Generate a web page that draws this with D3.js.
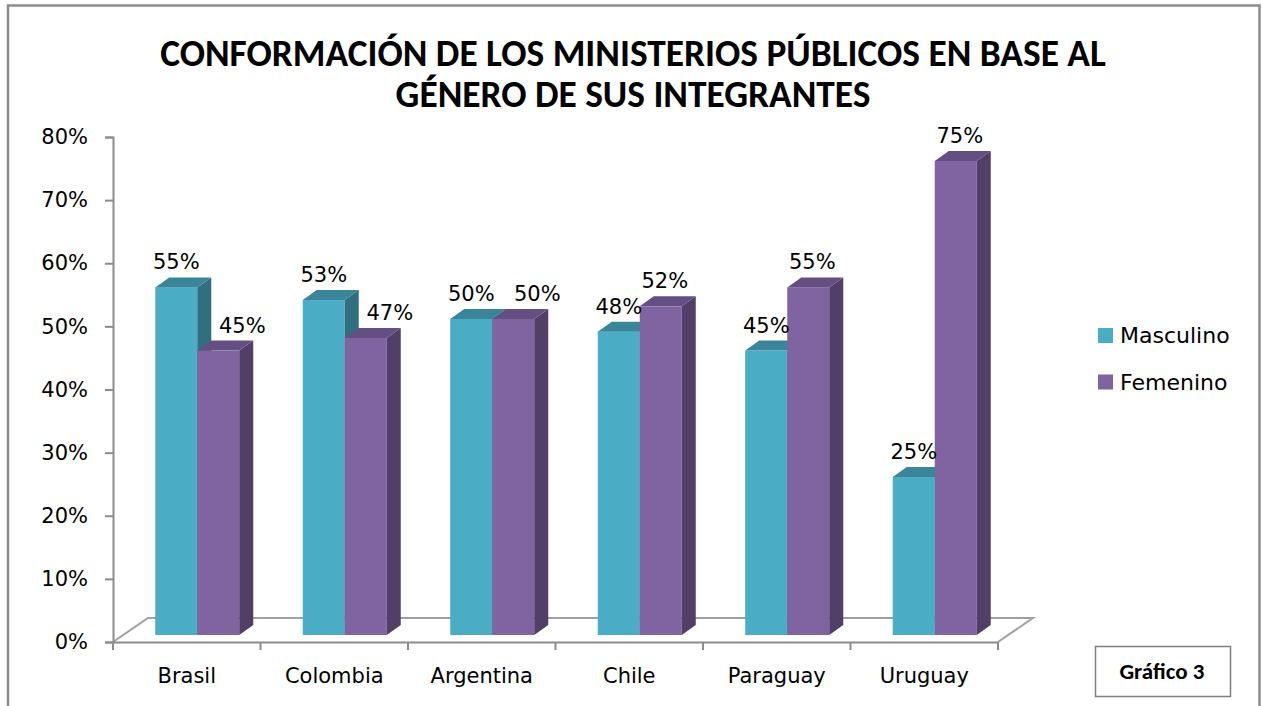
<!DOCTYPE html>
<html>
<head>
<meta charset="utf-8">
<script src="https://cdn.jsdelivr.net/npm/d3@7"></script>
<style>
  body { margin: 0; background: #fff; }
  text { font-family: "DejaVu Sans", sans-serif; }
  .calibri { font-family: Carlito, "Open Sans", sans-serif; }
</style>
</head>
<body>
<svg id="chart" width="1262" height="706"></svg>
<script>
var countries = ["Brasil", "Colombia", "Argentina", "Chile", "Paraguay", "Uruguay"];
var masculino = [0.55, 0.53, 0.50, 0.48, 0.45, 0.25];
var femenino = [0.45, 0.47, 0.50, 0.52, 0.55, 0.75];
var series = ["Masculino", "Femenino"];
var yTicks = [0, 0.1, 0.2, 0.3, 0.4, 0.5, 0.6, 0.7, 0.8];
var titleLines = ["CONFORMACIÓN DE LOS MINISTERIOS PÚBLICOS EN BASE AL", "GÉNERO DE SUS INTEGRANTES"];

var colors = {
    Masculino: { front: "#4bacc6", side: "#2f6f80", top: "#3a8599" },
    Femenino: { front: "#8064a2", side: "#513f68", top: "#654f82" }
};

var svg = d3.select("#chart");
var depthX = 14, depthY = 10, barW = 42;
var floorX = 35, floorY = 24;

// frame
svg.append("path")
    .attr("d", "M8,712 L8,5.5 L1259.5,5.5 L1259.5,712")
    .attr("fill", "none")
    .attr("stroke", "#8c8c8c")
    .attr("stroke-width", 2.5);

// title
titleLines.forEach(function(t, i){
    svg.append("text")
        .attr("x", 633)
        .attr("y", 66 + i * 41)
        .attr("text-anchor", "middle")
        .attr("font-size", 31)
        .attr("font-weight", "bold")
        .classed("title calibri", true)
        .text(t);
});
var t0 = svg.select(".title").node();
var fs = 31 * 946 / t0.getComputedTextLength();
svg.selectAll(".title").attr("font-size", fs);

var x = d3.scaleBand().domain(countries).range([113, 998]);
var y = d3.scaleLinear().domain([0, 0.8]).range([642, 137]);
var yBar = d3.scaleLinear().domain([0, 0.8]).range([635, 635 - 0.8 * 632]);

// floor
svg.append("path")
    .attr("d", "M113,642 L" + (113 + floorX) + "," + (642 - floorY) +
        " L" + (998 + floorX) + "," + (642 - floorY) + " L998,642")
    .attr("fill", "none")
    .attr("stroke", "#a0a0a0")
    .attr("stroke-width", 2);

// y axis
var yAxis = svg.append("g")
    .attr("transform", "translate(113,0)")
    .call(d3.axisLeft(y).tickValues(yTicks).tickFormat(d3.format(".0%")).tickSize(8).tickPadding(17));
yAxis.select(".domain").attr("stroke", "#8c8c8c").attr("stroke-width", 2);
yAxis.selectAll(".tick line").attr("stroke", "#8c8c8c").attr("stroke-width", 2);
yAxis.selectAll(".tick text")
    .attr("font-size", 21)
    .attr("fill", "#000")
    .style("font-family", '"DejaVu Sans", sans-serif');

// x axis
var xAxis = svg.append("g")
    .attr("transform", "translate(0,642)")
    .call(d3.axisBottom(x).tickSize(0).tickPadding(26));
xAxis.select(".domain").attr("stroke", "#8c8c8c").attr("stroke-width", 2);
xAxis.selectAll(".tick text")
    .attr("font-size", 21)
    .attr("fill", "#000")
    .style("font-family", '"DejaVu Sans", sans-serif');
var bounds = countries.map(function(c){ return x(c); }).concat([998]);
svg.selectAll(".xtick")
    .data(bounds)
    .enter().append("line")
    .attr("x1", d => d).attr("x2", d => d)
    .attr("y1", 642).attr("y2", 650)
    .attr("stroke", "#8c8c8c")
    .attr("stroke-width", 2);

// bars
var bars = [];
countries.forEach(function(c, i){
    var mid = x(c) + x.bandwidth() / 2 + 10.5;
    bars.push({ country: c, s: "Masculino", v: masculino[i], x0: mid - barW, labelDx: 0 });
    var shift = femenino[i] - masculino[i] <= 0.04 ? 24 : 4;
    bars.push({ country: c, s: "Femenino", v: femenino[i], x0: mid, labelDx: shift });
});

var g = svg.selectAll(".bar")
    .data(bars)
    .enter().append("g")
    .classed("bar", true);

g.append("rect")
    .attr("x", d => d.x0)
    .attr("y", d => yBar(d.v))
    .attr("width", barW)
    .attr("height", d => yBar(0) - yBar(d.v))
    .attr("fill", d => colors[d.s].front);

g.append("path")
    .attr("d", function(d){
        var x1 = d.x0 + barW, t = yBar(d.v), b = yBar(0);
        return "M" + x1 + "," + t + " L" + (x1 + depthX) + "," + (t - depthY) +
            " L" + (x1 + depthX) + "," + (b - depthY) + " L" + x1 + "," + b + "Z";
    })
    .attr("fill", d => colors[d.s].side);

g.append("path")
    .attr("d", function(d){
        var t = yBar(d.v);
        return "M" + d.x0 + "," + t + " L" + (d.x0 + depthX) + "," + (t - depthY) +
            " L" + (d.x0 + barW + depthX) + "," + (t - depthY) + " L" + (d.x0 + barW) + "," + t + "Z";
    })
    .attr("fill", d => colors[d.s].top);

// value labels
svg.selectAll(".val")
    .data(bars)
    .enter().append("text")
    .attr("x", d => d.x0 + barW / 2 + d.labelDx)
    .attr("y", d => yBar(d.v) - depthY - 8)
    .attr("text-anchor", "middle")
    .attr("font-size", 21)
    .text(d => d3.format(".0%")(d.v));

// legend
var leg = svg.selectAll(".legend")
    .data(series)
    .enter().append("g")
    .attr("transform", (d, i) => "translate(1098," + (328 + i * 46.5) + ")");
leg.append("rect")
    .attr("width", 15).attr("height", 15)
    .attr("fill", d => colors[d].front);
leg.append("text")
    .attr("x", 22)
    .attr("y", 15)
    .attr("font-size", 22)
    .text(d => d);

// "Gráfico 3" box
svg.append("rect")
    .attr("x", 1095.5).attr("y", 646.5)
    .attr("width", 135).attr("height", 50)
    .attr("fill", "#fff")
    .attr("stroke", "#7f7f7f")
    .attr("stroke-width", 1.5);
svg.append("text")
    .attr("x", 1162)
    .attr("y", 679)
    .attr("text-anchor", "middle")
    .attr("font-size", 23)
    .attr("font-weight", "bold")
    .classed("calibri", true)
    .text("Gráfico 3");
</script>
</body>
</html>
